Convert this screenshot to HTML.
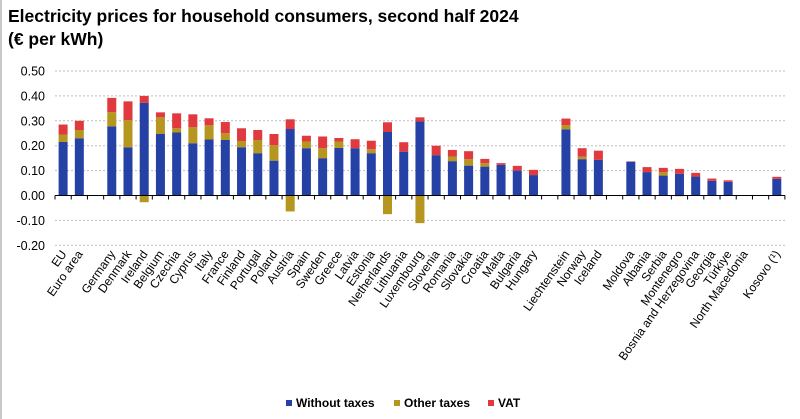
<!DOCTYPE html>
<html><head><meta charset="utf-8"><style>
body{margin:0;background:#fff;font-family:"Liberation Sans",Arial,sans-serif}
svg{display:block}
</style></head><body>
<svg id="c" width="800" height="419" viewBox="0 0 800 419" xmlns="http://www.w3.org/2000/svg">
<rect x="0" y="0" width="800" height="419" fill="#fff"/>
<line x1="1" y1="0" x2="1" y2="419" stroke="#c8c8c8" stroke-width="2"/>
<text x="8" y="22" font-size="17.5" font-weight="bold" fill="#000">Electricity prices for household consumers, second half 2024</text>
<text x="8" y="45" font-size="17.5" font-weight="bold" fill="#000">(€ per kWh)</text>
<g id="grid"></g><g id="bars"></g><g id="axis"></g><g id="labels"></g>
<g>
<rect x="286" y="400" width="6" height="6" fill="#2541a5"/>
<text x="296" y="407" font-size="12" font-weight="bold">Without taxes</text>
<rect x="394" y="400" width="6" height="6" fill="#b5961f"/>
<text x="404" y="407" font-size="12" font-weight="bold">Other taxes</text>
<rect x="488" y="400" width="6" height="6" fill="#e0393e"/>
<text x="498" y="407" font-size="12" font-weight="bold">VAT</text>
</g>
</svg>
<script>
const categories=["EU","Euro area","","Germany","Denmark","Ireland","Belgium","Czechia","Cyprus","Italy","France","Finland","Portugal","Poland","Austria","Spain","Sweden","Greece","Latvia","Estonia","Netherlands","Lithuania","Luxembourg","Slovenia","Romania","Slovakia","Croatia","Malta","Bulgaria","Hungary","","Liechtenstein","Norway","Iceland","","Moldova","Albania","Serbia","Montenegro","Bosnia and Herzegovina","Georgia","Türkiye","North Macedonia","","Kosovo (¹)"];
const withoutTaxes=[0.215,0.23,null,0.278,0.193,0.372,0.247,0.253,0.21,0.225,0.223,0.194,0.17,0.14,0.267,0.19,0.15,0.191,0.19,0.17,0.255,0.176,0.297,0.162,0.138,0.12,0.116,0.123,0.1,0.082,null,0.266,0.146,0.143,null,0.136,0.094,0.08,0.087,0.076,0.059,0.055,null,null,0.067];
const otherTaxes=[0.03,0.033,null,0.057,0.11,-0.027,0.067,0.017,0.064,0.057,0.027,0.025,0.053,0.062,-0.064,0.027,0.04,0.026,0,0.016,-0.075,0,-0.111,0,0.018,0.026,0.014,0,0,0,null,0.017,0.01,0,null,0,0,0.014,-0.003,0,0,0,null,null,0];
const vat=[0.04,0.037,null,0.057,0.075,0.028,0.02,0.06,0.052,0.028,0.045,0.051,0.04,0.045,0.039,0.023,0.047,0.014,0.036,0.034,0.039,0.038,0.017,0.038,0.027,0.032,0.017,0.007,0.019,0.021,null,0.026,0.034,0.037,null,0.001,0.02,0.017,0.02,0.015,0.009,0.006,null,null,0.008];
const yTicks=[0.5,0.4,0.3,0.2,0.1,0,-0.1,-0.2];
const yTickLabels=["0.50","0.40","0.30","0.20","0.10","0.00","-0.10","-0.20"];
const NS="http://www.w3.org/2000/svg";
const x0=55,slot=16.22,bw=9;
function y(v){return 195.5-v*249;}
function xc(i){return x0+slot*(i+0.5);}
function mk(t,a,p){const e=document.createElementNS(NS,t);for(const k in a)e.setAttribute(k,a[k]);p.appendChild(e);return e;}
const grid=document.getElementById('grid'),bars=document.getElementById('bars'),axis=document.getElementById('axis'),labels=document.getElementById('labels');
yTicks.forEach((v,i)=>{
 if(v!==0){const l=mk('line',{x1:x0,x2:785,y1:y(v),y2:y(v),stroke:'#bdbdbd','stroke-dasharray':'2,2','stroke-width':1},grid);
 
 }
 const t=mk('text',{x:45,y:y(v)+4.5,'text-anchor':'end','font-size':12.5,fill:'#000'},axis);
 t.textContent=yTickLabels[i];
 
 
});
const ax=mk('line',{x1:x0,x2:785,y1:y(0),y2:y(0),stroke:'#000','stroke-width':1},axis);


for(let i=0;i<=categories.length;i++){
 const tk=mk('line',{x1:x0+slot*i,x2:x0+slot*i,y1:y(0),y2:y(0)+4,stroke:'#000','stroke-width':1},axis);
 
 
}
function seg(i,a,b,col,name){
 if(b===a)return;
 const r=mk('rect',{x:xc(i)-bw/2,y:Math.min(y(a),y(b)),width:bw,height:Math.abs(y(a)-y(b)),fill:col},bars);
 
 
}
categories.forEach((c,i)=>{
 if(c){
  const t=mk('text',{x:0,y:0,'text-anchor':'end','font-size':12,fill:'#000',transform:`translate(${xc(i)+4},${254}) rotate(-55)`},labels);
  t.textContent=c;
  
  
 }
 const b=withoutTaxes[i];if(b==null)return;
 const o=otherTaxes[i]||0,v=vat[i]||0;
 seg(i,0,b,'#2541a5','bar-without-taxes');
 let top=b;
 if(o>0){seg(i,top,top+o,'#b5961f','bar-other-taxes');top+=o;}
 else if(o<0){seg(i,0,o,'#b5961f','bar-other-taxes');}
 seg(i,top,top+v,'#e0393e','bar-vat');
});
</script>
</body></html>
